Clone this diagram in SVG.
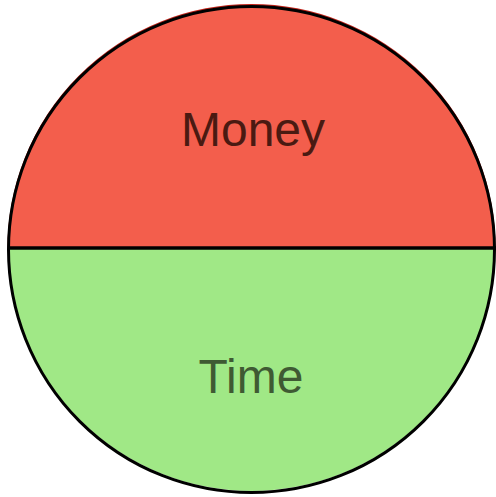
<svg xmlns="http://www.w3.org/2000/svg" width="496" height="497" viewBox="0 0 496 497">
<style>
.lbl{font-family:"Liberation Sans",Arial,sans-serif;font-size:48px;text-anchor:middle}
</style>
<rect width="496" height="497" fill="#ffffff"/>
<g id="money">
<path d="M8.5,248 A243,243 0 0 1 494.5,248 Z" fill="#F35E4C" stroke="#C0231A" stroke-width="2"/>
<text class="lbl" x="253" y="146" fill="#4A1A12">Money</text>
</g>
<g id="time">
<path d="M8.5,248 A243,243 0 0 0 494.5,248 Z" fill="#A0E886"/>
<text class="lbl" x="251" y="393" fill="#3F5A33">Time</text>
</g>
<g id="connectors">
<circle cx="251.5" cy="249.5" r="243" fill="none" stroke="#000" stroke-width="3"/>
<line x1="8" y1="248" x2="496" y2="248" stroke="#000" stroke-width="3.5"/>
</g>
</svg>
